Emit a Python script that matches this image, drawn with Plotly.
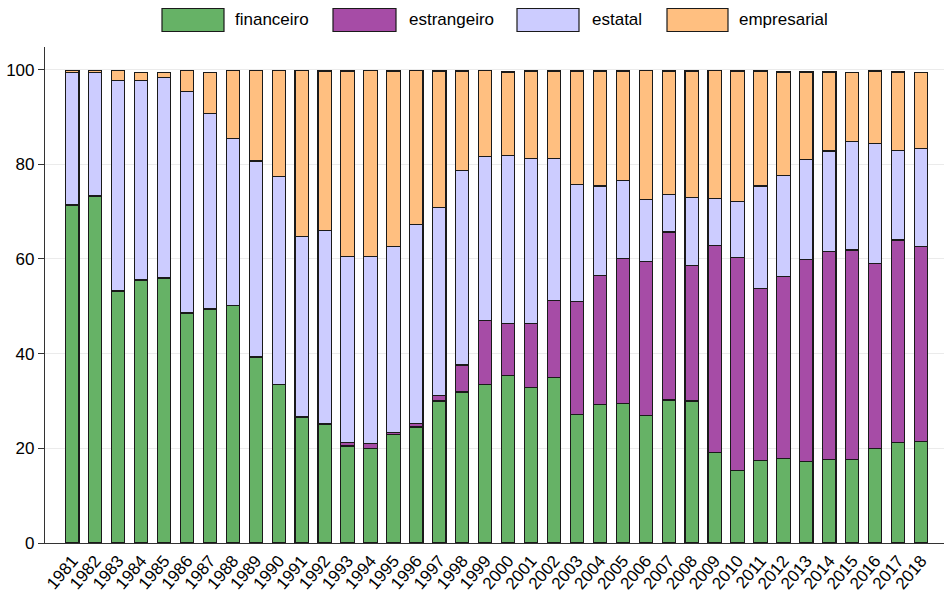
import plotly.graph_objects as go

years = [str(y) for y in range(1981, 2019)]

financeiro = [71.4, 73.3, 53.2, 55.5, 55.9, 48.5, 49.4, 50.1, 39.2, 33.4,
              26.6, 25.1, 20.5, 20.0, 23.0, 24.5, 30.0, 31.9, 33.5, 35.4,
              32.9, 34.9, 27.1, 29.3, 29.5, 26.9, 30.2, 30.0, 19.2, 15.3,
              17.4, 17.9, 17.2, 17.6, 17.7, 20.0, 21.2, 21.4]
estrangeiro = [0.1, 0.1, 0.1, 0.1, 0.1, 0.1, 0.1, 0.1, 0.1, 0.1,
               0.1, 0.1, 0.7, 1.0, 0.3, 0.7, 1.1, 5.7, 13.5, 10.9,
               13.4, 16.4, 23.9, 27.3, 30.6, 32.5, 35.5, 28.6, 43.7, 45.0,
               36.4, 38.3, 42.6, 43.9, 44.2, 39.1, 42.8, 41.2]
estatal = [27.9, 26.0, 44.4, 42.0, 42.3, 46.7, 41.2, 35.2, 41.4, 44.0,
           38.1, 40.9, 39.3, 39.5, 39.3, 42.0, 39.8, 41.0, 34.6, 35.6,
           35.0, 30.0, 24.7, 18.8, 16.5, 13.2, 7.9, 14.4, 9.9, 11.8,
           21.6, 21.5, 21.3, 21.3, 23.0, 25.3, 19.0, 20.7]
empresarial = [0.5, 0.5, 2.2, 1.8, 1.1, 4.6, 8.7, 14.5, 19.2, 22.3,
               35.0, 33.6, 39.2, 39.4, 37.1, 32.7, 28.8, 21.1, 18.2, 17.6,
               18.4, 18.4, 24.0, 24.3, 23.1, 27.2, 26.1, 26.7, 27.0, 27.6,
               24.3, 21.8, 18.4, 16.7, 14.4, 15.3, 16.5, 16.1]

series_names = ["financeiro", "estrangeiro", "estatal", "empresarial"]
series_values = [financeiro, estrangeiro, estatal, empresarial]
colors = ["#66B266", "#A64CA6", "#CCCCFF", "#FFBF80"]
y_ticks = [0, 20, 40, 60, 80, 100]

FONT = "Liberation Sans Narrow, Arial Narrow, Liberation Sans, Arial, sans-serif"

fig = go.Figure()
for name, vals, col in zip(series_names, series_values, colors):
    fig.add_trace(go.Bar(
        x=years, y=vals, name=name,
        marker=dict(color=col, line=dict(color="#1a1a1a", width=1.1)),
        width=0.58, showlegend=False,
    ))

W, H = 944, 593
L, R, T, B = 45, 0, 47, 50
pw = W - L - R
ph = H - T - B

def px_x(px):
    return (px - L) / pw

def px_y(py):
    return (H - B - py) / ph

legend_boxes = [(162, 224), (333, 396), (517, 579), (667, 728)]
legend_text_x = [233, 407, 590, 737]
shapes = []
annotations = []
for (x0, x1), tx, name, col in zip(legend_boxes, legend_text_x, series_names, colors):
    shapes.append(dict(type="rect", xref="paper", yref="paper",
                       x0=px_x(x0), x1=px_x(x1), y0=px_y(31.5), y1=px_y(8.5),
                       fillcolor=col, line=dict(color="#1a1a1a", width=1.2)))
    annotations.append(dict(xref="paper", yref="paper", x=px_x(tx), y=px_y(20),
                            xanchor="left", yanchor="middle", showarrow=False,
                            text=name, font=dict(family=FONT, size=17, color="#000")))

fig.update_layout(
    barmode="stack",
    width=W, height=H,
    margin=dict(l=L, r=R, t=T, b=B, autoexpand=False),
    plot_bgcolor="white", paper_bgcolor="white",
    font=dict(family=FONT, size=17, color="#000"),
    shapes=shapes, annotations=annotations,
    xaxis=dict(
        type="category", range=[-1.19, 38.0],
        tickmode="array", tickvals=years, ticktext=years,
        showline=True, linecolor="#333", linewidth=1.2,
        ticks="", tickangle=-50, showgrid=False, automargin=False,
        tickfont=dict(family=FONT, size=17, color="#000"),
    ),
    yaxis=dict(
        range=[0, 104.77], tickvals=y_ticks, ticktext=[str(v) for v in y_ticks],
        showline=True, linecolor="#333", linewidth=1.2,
        ticks="outside", ticklen=6, tickcolor="#333",
        showgrid=True, gridcolor="#ebebeb", gridwidth=1,
        zeroline=False, automargin=False,
        tickfont=dict(family=FONT, size=17, color="#000"),
    ),
)

fig.write_html("out.html", config={"displayModeBar": False},
               post_script="document.body.style.margin='0';document.body.style.padding='0';")
